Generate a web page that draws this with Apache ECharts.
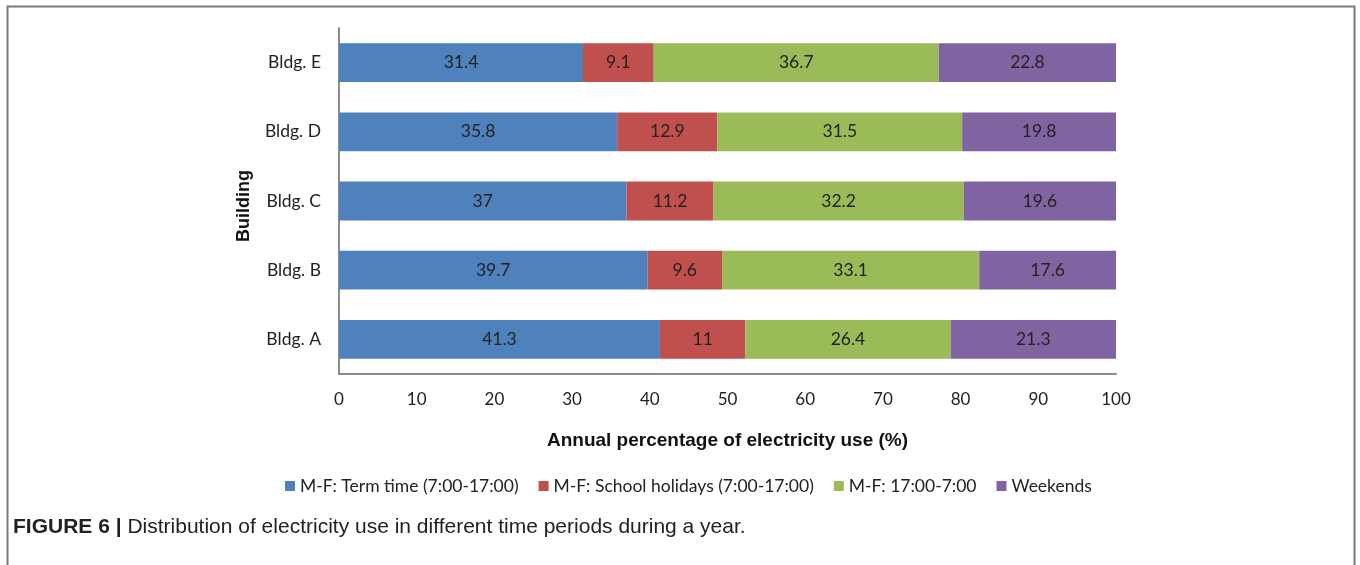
<!DOCTYPE html>
<html>
<head>
<meta charset="utf-8">
<script src="https://cdn.jsdelivr.net/npm/echarts@6/dist/echarts.min.js"></script>
<style>
  html, body { margin: 0; padding: 0; background: #fff; }
  #chart { width: 1360px; height: 565px; }
</style>
</head>
<body>
<div id="chart"></div>
<script>
// Buildings, bottom to top
const buildings = ['Bldg. A', 'Bldg. B', 'Bldg. C', 'Bldg. D', 'Bldg. E'];

// Share of annual electricity use (%) for each time period
const termTime     = [41.3, 39.7, 37, 35.8, 31.4];
const schoolHols   = [11, 9.6, 11.2, 12.9, 9.1];
const eveningNight = [26.4, 33.1, 32.2, 31.5, 36.7];
const weekends     = [21.3, 17.6, 19.6, 19.8, 22.8];

const seriesNames = [
  'M-F: Term time (7:00-17:00)',
  'M-F: School holidays (7:00-17:00)',
  'M-F: 17:00-7:00',
  'Weekends'
];
const seriesColors = ['#4F81BD', '#C0504D', '#9BBB59', '#8064A2'];
const seriesValues = [termTime, schoolHols, eveningNight, weekends];

const labelFont = 'Lato, "Open Sans", sans-serif';
const titleFont = '"Liberation Sans", Arial, sans-serif';

const chart = echarts.init(document.getElementById('chart'), null, { renderer: 'canvas' });

chart.setOption({
  backgroundColor: '#ffffff',
  animation: false,
  grid: { left: 339, right: 244, top: 28, bottom: 191, containLabel: false },
  legend: {
    data: seriesNames,
    top: 472,
    left: 280,
    icon: 'rect',
    itemWidth: 10,
    itemHeight: 10,
    itemGap: 20,
    textStyle: { fontFamily: labelFont, fontSize: 17.5, color: '#222' }
  },
  xAxis: {
    type: 'value',
    min: 0,
    max: 100,
    interval: 10,
    name: 'Annual percentage of electricity use (%)',
    nameLocation: 'middle',
    nameGap: 57,
    nameTextStyle: { fontFamily: titleFont, fontWeight: 'bold', fontSize: 19, color: '#111' },
    axisLine: { show: true, lineStyle: { color: '#8c8c8c', width: 2 } },
    axisTick: { show: false },
    splitLine: { show: false },
    axisLabel: { fontFamily: labelFont, fontSize: 17, color: '#222', margin: 17 }
  },
  yAxis: {
    type: 'category',
    data: buildings,
    axisLine: { show: true, lineStyle: { color: '#8c8c8c', width: 2 } },
    axisTick: { show: false },
    axisLabel: { fontFamily: labelFont, fontSize: 17.5, color: '#222', margin: 18 }
  },
  series: seriesNames.map((name, i) => ({
    name: name,
    type: 'bar',
    stack: 'total',
    barCategoryGap: '44%',
    data: seriesValues[i],
    itemStyle: { color: seriesColors[i] },
    label: {
      show: true,
      position: 'inside',
      fontFamily: labelFont,
      fontSize: 17.5,
      color: '#222'
    }
  })),
  graphic: [
    {
      type: 'rect',
      shape: { x: 7.5, y: 6.5, width: 1347, height: 600 },
      style: { fill: 'none', stroke: '#7a7a7a', lineWidth: 2 },
      silent: true
    },
    {
      // vertical category-axis title
      type: 'text',
      x: 244,
      y: 206,
      rotation: Math.PI / 2,
      style: {
        text: 'Building',
        fontFamily: titleFont,
        fontWeight: 'bold',
        fontSize: 18,
        fill: '#111',
        align: 'center',
        verticalAlign: 'middle'
      }
    },
    {
      type: 'text',
      x: 13,
      y: 527,
      style: {
        text: '{b|FIGURE 6 |} Distribution of electricity use in different time periods during a year.',
        rich: {
          b: { fontFamily: titleFont, fontWeight: 'bold', fontSize: 21, fill: '#222' }
        },
        fontFamily: titleFont,
        fontSize: 21,
        fill: '#222',
        verticalAlign: 'middle'
      }
    }
  ]
});
</script>
</body>
</html>
